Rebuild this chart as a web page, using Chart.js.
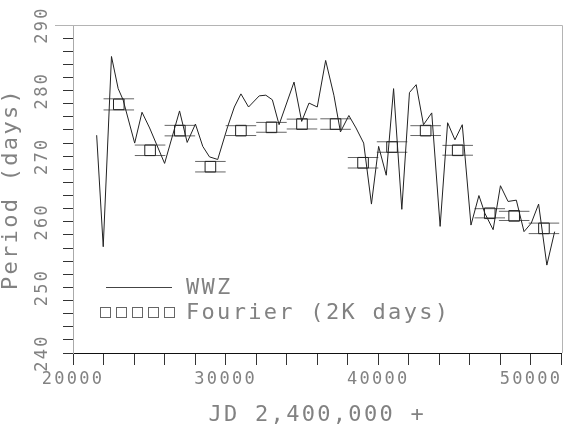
<!DOCTYPE html>
<html>
<head>
<meta charset="utf-8">
<script src="https://cdn.jsdelivr.net/npm/chart.js@4"></script>
<style>
  html, body { margin: 0; padding: 0; background: #fff; }
</style>
</head>
<body>
<canvas id="myChart" width="570" height="433"></canvas>
<script>
// WWZ period track (JD - 2,400,000, period in days)
const wwzJD = [21550, 21980, 22520, 22960, 23280, 24040, 24520, 25020, 26000, 26980,
  27480, 28020, 28500, 28940, 29480, 30130, 30570, 31000, 31500, 32200,
  32630, 33060, 33500, 34480, 34980, 35460, 36000, 36550, 37090, 37520,
  38070, 38540, 39040, 39550, 40020, 40520, 41000, 41540, 42040, 42480,
  42960, 43500, 44050, 44540, 45020, 45500, 46070, 46590, 46980, 47520,
  48000, 48500, 49040, 49545, 50020, 50500, 51040, 51550];
const wwzPeriod = [273.2, 256.2, 285.2, 280.3, 278.6, 272.0, 276.7, 274.3, 268.9, 276.9,
  272.1, 274.9, 271.5, 269.9, 269.5, 274.5, 277.5, 279.5, 277.5, 279.2,
  279.3, 278.6, 274.8, 281.3, 275.3, 278.1, 277.5, 284.6, 279.3, 273.7,
  276.2, 274.3, 272.0, 262.7, 271.5, 267.1, 280.3, 261.9, 279.7, 280.9,
  274.8, 276.6, 259.3, 275.1, 272.5, 274.8, 259.5, 264.0, 261.3, 258.8,
  265.5, 263.1, 263.3, 258.5, 259.8, 262.7, 253.4, 258.5];

// Fourier estimates over 2K-day windows
const fourierJD = [23000, 25050, 27000, 29000, 31000, 33000, 35000, 37200,
  39000, 40900, 43100, 45200, 47300, 48900, 50850];
const fourierPeriod = [277.9, 270.9, 273.9, 268.4, 273.9, 274.4, 274.9, 274.9,
  269.0, 271.4, 273.9, 270.9, 261.3, 260.9, 259.0];
const fourierErr = [0.85, 0.8, 0.8, 0.8, 0.75, 0.75, 0.75, 0.8,
  0.8, 0.8, 0.75, 0.75, 0.7, 0.7, 0.8];
const fourierHalfWindow = 1000;

const xTicks = { min: 20000, max: 52000, step: 2000, labelEvery: 10000 };
const yTicks = { min: 240, max: 290, step: 2, labelEvery: 10 };

const textColor = "#828282";
const monoFont = '"DejaVu Sans Mono", "Liberation Mono", monospace';

const wwzData = wwzJD.map((x, i) => ({ x: x, y: wwzPeriod[i] }));
const fourierData = fourierJD.map((x, i) => ({ x: x, y: fourierPeriod[i] }));

// window bars above and below each square
const windowData = [];
fourierJD.forEach((x, i) => {
  [1, -1].forEach((s) => {
    const y = fourierPeriod[i] + s * fourierErr[i];
    windowData.push({ x: x - fourierHalfWindow, y: y });
    windowData.push({ x: x + fourierHalfWindow, y: y });
    windowData.push({ x: x, y: null });
  });
});

const frameAndKey = {
  id: "frameAndKey",
  beforeUpdate(chart) {
    chart.ctx.letterSpacing = "2.3px";
  },
  beforeDraw(chart) {
    chart.ctx.letterSpacing = "2.3px";
  },
  afterDraw(chart) {
    const ctx = chart.ctx;
    const a = chart.chartArea;
    ctx.save();
    ctx.lineWidth = 1;
    ctx.strokeStyle = "#b4b4b4";
    ctx.beginPath();
    ctx.moveTo(a.left - 18, Math.round(a.top) + 0.5);
    ctx.lineTo(Math.round(a.right) + 0.5, Math.round(a.top) + 0.5);
    ctx.lineTo(Math.round(a.right) + 0.5, a.bottom);
    ctx.stroke();

    // key, inside the plot at lower left
    const ds = chart.data.datasets;
    const textX = a.left + 113;
    const row1 = a.top + 262;
    const row2 = a.top + 287;
    ctx.strokeStyle = "#444";
    ctx.beginPath();
    ctx.moveTo(a.left + 33, row1 + 0.5);
    ctx.lineTo(a.left + 99, row1 + 0.5);
    ctx.stroke();
    ctx.strokeStyle = "#666";
    for (let k = 0; k < 5; k++) {
      ctx.strokeRect(a.left + 27.5 + k * 16, row2 - 5 + 0.5, 10, 10);
    }
    ctx.font = "22px " + monoFont;
    ctx.fillStyle = textColor;
    ctx.textBaseline = "middle";
    ctx.textAlign = "left";
    ctx.fillText(ds[0].label, textX, row1 + 1);
    ctx.fillText(ds[1].label, textX, row2 + 1);
    ctx.restore();
  },
};

var ctx = document.getElementById("myChart").getContext("2d");
var myChart = new Chart(ctx, {
  type: "scatter",
  data: {
    datasets: [
      {
        label: "WWZ",
        data: wwzData,
        showLine: true,
        borderColor: "#222",
        borderWidth: 1,
        pointRadius: 0,
        tension: 0,
      },
      {
        label: "Fourier (2K days)",
        data: fourierData,
        pointStyle: "rect",
        pointRadius: 7.5,
        borderColor: "#222",
        borderWidth: 1,
        backgroundColor: "rgba(0,0,0,0)",
      },
      {
        label: "window",
        data: windowData,
        showLine: true,
        spanGaps: false,
        borderColor: "#666",
        borderWidth: 1,
        pointRadius: 0,
      },
    ],
  },
  options: {
    responsive: false,
    animation: false,
    layout: { padding: { top: 25, right: 5, left: 0, bottom: 0 } },
    plugins: {
      legend: { display: false },
      tooltip: { enabled: false },
    },
    scales: {
      x: {
        type: "linear",
        min: xTicks.min,
        max: xTicks.max,
        afterFit(scale) {
          scale.height = 80;
        },
        ticks: {
          stepSize: xTicks.step,
          autoSkip: false,
          maxRotation: 0,
          padding: 4,
          color: textColor,
          font: { family: monoFont, size: 17 },
          callback: (v) => (v % xTicks.labelEvery === 0 ? String(v) : ""),
        },
        grid: { drawOnChartArea: false, tickLength: 12, tickColor: "#333" },
        border: { color: "#111" },
        title: {
          display: true,
          text: "JD 2,400,000 +",
          color: textColor,
          font: { family: monoFont, size: 22, lineHeight: 1.2 },
          padding: { top: 0, bottom: 5 },
        },
      },
      y: {
        min: yTicks.min,
        max: yTicks.max,
        afterFit(scale) {
          scale.width = 73;
        },
        ticks: {
          stepSize: yTicks.step,
          autoSkip: false,
          minRotation: 90,
          maxRotation: 90,
          crossAlign: "center",
          padding: 2,
          color: textColor,
          font: { family: monoFont, size: 17 },
          callback: (v) => (v % yTicks.labelEvery === 0 ? String(v) : ""),
        },
        grid: { drawOnChartArea: false, tickLength: 10, tickColor: "#333" },
        border: { color: "#aaa" },
        title: {
          display: true,
          text: "Period (days)",
          color: textColor,
          font: { family: monoFont, size: 22, lineHeight: 1 },
          padding: { top: 0, bottom: 0 },
        },
      },
    },
  },
  plugins: [frameAndKey],
});
</script>
</body>
</html>
